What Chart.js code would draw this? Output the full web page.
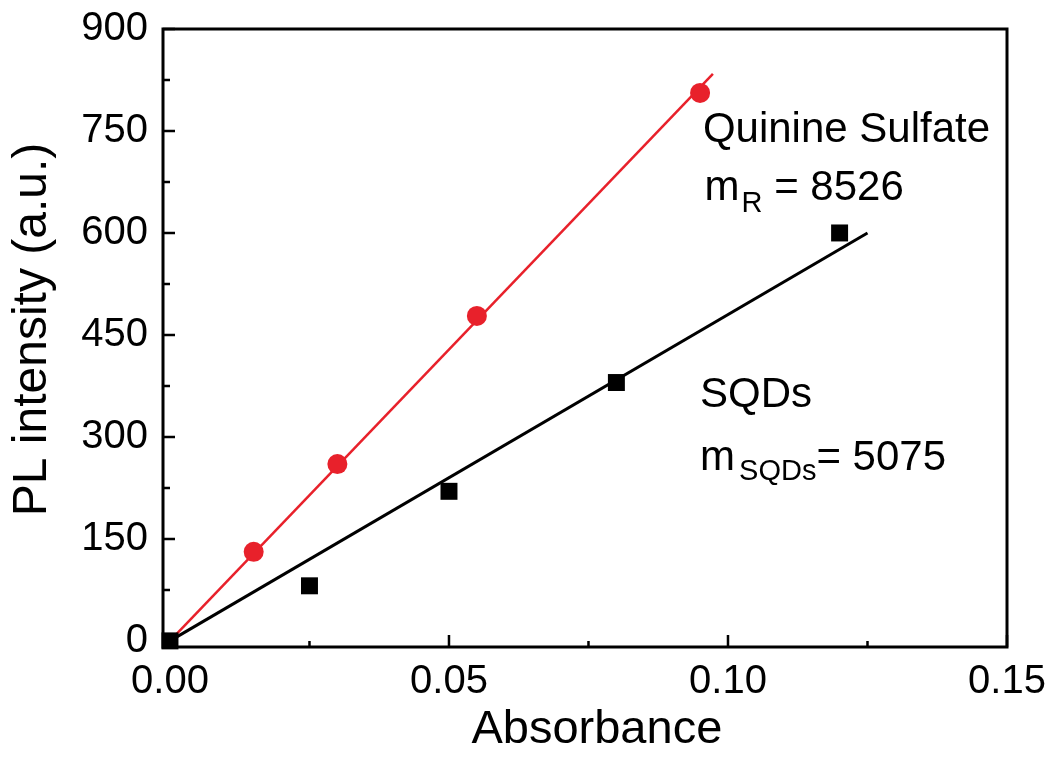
<!DOCTYPE html>
<html>
<head>
<meta charset="utf-8">
<script src="https://cdn.jsdelivr.net/npm/chart.js@4/dist/chart.umd.min.js"></script>
<style>
    html, body { margin: 0; padding: 0; background: #fff; }
    #wrap { width: 1052px; height: 762px; }
</style>
</head>
<body>
<div id="wrap"><canvas id="chart" width="1052" height="762"></canvas></div>
<script>
const qsAbs = [0.015, 0.030, 0.055, 0.095];
const qsPL = [131, 260, 478, 806];
const sqdAbs = [0, 0.025, 0.050, 0.080, 0.120];
const sqdPL = [0, 81, 220, 380, 600];
const qsFitAbs = [0, 0.0973];
const qsFitPL = [0, 834];
const sqdFitAbs = [0, 0.125];
const sqdFitPL = [0, 600];
const xTicks = [0, 0.05, 0.10, 0.15];
const xMinorTicks = [0.025, 0.075, 0.125];
const yTicks = [0, 150, 300, 450, 600, 750, 900];
const yMinorTicks = [75, 225, 375, 525, 675, 825];

const FONT = "'Liberation Sans', Arial, sans-serif";
const RED = '#e8212b';

function pts(xs, ys) {
    return xs.map(function(x, i) { return { x: x, y: ys[i] }; });
}

// frame, inward ticks, axis titles and the two text blocks
const framePlugin = {
    id: 'frame',
    beforeDatasetsDraw: function(chart) {
        const ctx = chart.ctx;
        const a = chart.chartArea;
        const xs = chart.scales.x, ys = chart.scales.y;
        ctx.save();
        ctx.strokeStyle = '#000';
        ctx.lineWidth = 2.5;
        ctx.beginPath();
        xTicks.forEach(function(v) {
            const px = xs.getPixelForValue(v);
            ctx.moveTo(px, a.bottom); ctx.lineTo(px, a.bottom - 12);
        });
        xMinorTicks.forEach(function(v) {
            const px = xs.getPixelForValue(v);
            ctx.moveTo(px, a.bottom); ctx.lineTo(px, a.bottom - 6);
        });
        yTicks.forEach(function(v) {
            const py = ys.getPixelForValue(v);
            ctx.moveTo(a.left, py); ctx.lineTo(a.left + 12, py);
        });
        yMinorTicks.forEach(function(v) {
            const py = ys.getPixelForValue(v);
            ctx.moveTo(a.left, py); ctx.lineTo(a.left + 7, py);
        });
        ctx.stroke();
        ctx.lineWidth = 3;
        ctx.strokeRect(a.left, a.top, a.right - a.left, a.bottom - a.top);
        ctx.restore();
    },
    afterDraw: function(chart) {
        const ctx = chart.ctx;
        const xs = chart.scales.x, ys = chart.scales.y;
        ctx.save();
        ctx.fillStyle = '#000';

        // axis titles
        ctx.font = '47px ' + FONT;
        ctx.textAlign = 'center';
        ctx.textBaseline = 'middle';
        ctx.fillText('Absorbance', xs.getPixelForValue(0.0765), 730);

        ctx.save();
        ctx.font = '48px ' + FONT;
        ctx.translate(33, ys.getPixelForValue(458));
        ctx.rotate(-Math.PI / 2);
        ctx.fillText('PL intensity (a.u.)', 0, 0);
        ctx.restore();

        ctx.textBaseline = 'alphabetic';
        ctx.textAlign = 'left';
        const big = '42px ' + FONT, small = '29px ' + FONT;

        let x = xs.getPixelForValue(0.0955);
        let y = ys.getPixelForValue(734);
        ctx.font = big;
        ctx.fillText('Quinine Sulfate', x, y);

        x = xs.getPixelForValue(0.0958);
        y = ys.getPixelForValue(648);
        ctx.fillText('m', x, y);
        let w = ctx.measureText('m').width + 2;
        ctx.font = small;
        ctx.fillText('R', x + w, y + 12);
        w += ctx.measureText('R').width;
        ctx.font = big;
        ctx.fillText(' = 8526', x + w, y);

        x = xs.getPixelForValue(0.095);
        y = ys.getPixelForValue(344);
        ctx.fillText('SQDs', x, y);

        y = ys.getPixelForValue(251);
        ctx.fillText('m', x, y);
        w = ctx.measureText('m').width + 4;
        ctx.font = small;
        ctx.fillText('SQDs', x + w, y + 10);
        w += ctx.measureText('SQDs').width;
        ctx.font = big;
        ctx.fillText('= 5075', x + w, y);
        ctx.restore();
    }
};

new Chart(document.getElementById('chart'), {
    type: 'scatter',
    data: {
        datasets: [
            {
                label: 'SQDs',
                data: pts(sqdAbs, sqdPL),
                pointStyle: 'rect',
                pointRadius: 12,
                pointBorderWidth: 0,
                backgroundColor: '#000',
                borderColor: '#000',
                clip: false,
                order: 0
            },
            {
                label: 'Quinine Sulfate',
                data: pts(qsAbs, qsPL),
                pointStyle: 'circle',
                pointRadius: 10,
                pointBorderWidth: 0,
                backgroundColor: RED,
                borderColor: RED,
                clip: false,
                order: 1
            },
            {
                label: 'SQDs fit',
                data: pts(sqdFitAbs, sqdFitPL),
                showLine: true,
                pointRadius: 0,
                borderColor: '#000',
                borderWidth: 3,
                order: 2
            },
            {
                label: 'QS fit',
                data: pts(qsFitAbs, qsFitPL),
                showLine: true,
                pointRadius: 0,
                borderColor: RED,
                borderWidth: 2.5,
                order: 3
            }
        ]
    },
    options: {
        responsive: false,
        animation: false,
        layout: {
            padding: { left: 0, top: 29, right: 45, bottom: 0 }
        },
        plugins: {
            legend: { display: false },
            tooltip: { enabled: false }
        },
        scales: {
            x: {
                type: 'linear',
                min: -0.00125,
                max: 0.15,
                afterBuildTicks: function(scale) {
                    scale.ticks = xTicks.map(function(v) { return { value: v }; });
                },
                afterFit: function(scale) {
                    scale.height = 115;
                    scale.paddingLeft = 0;
                    scale.paddingRight = 0;
                },
                grid: { display: false, drawTicks: false },
                border: { display: false },
                ticks: {
                    color: '#000',
                    padding: 11,
                    maxRotation: 0,
                    font: { size: 40, family: FONT },
                    callback: function(value) {
                        return value.toFixed(2);
                    }
                },
                title: { display: false }
            },
            y: {
                type: 'linear',
                min: -9,
                max: 900,
                afterBuildTicks: function(scale) {
                    scale.ticks = yTicks.map(function(v) { return { value: v }; });
                },
                afterFit: function(scale) {
                    scale.width = 163;
                    scale.paddingTop = 0;
                    scale.paddingBottom = 0;
                },
                grid: { display: false, drawTicks: false },
                border: { display: false },
                ticks: {
                    color: '#000',
                    padding: 15,
                    font: { size: 40, family: FONT }
                },
                title: { display: false }
            }
        }
    },
    plugins: [framePlugin]
});
</script>
</body>
</html>
